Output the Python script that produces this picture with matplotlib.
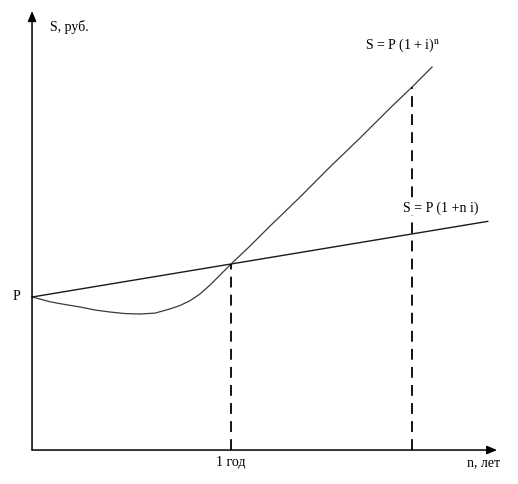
import numpy as np
import matplotlib.pyplot as plt

plt.rcParams['font.family'] = ['Liberation Serif', 'DejaVu Serif']
plt.rcParams['mathtext.fontset'] = 'stix'

# years (1 год = 1), amounts in units of P
P = 1.0
i_rate = 0.216
n_simple = [0.0, 2.29]
s_simple = [P * (1 + i_rate * n) for n in n_simple]

# curve
n_curve = [0.0, 0.040, 0.090, 0.166, 0.241, 0.317, 0.392, 0.467, 0.543, 0.618,
           0.693, 0.744, 0.794, 0.844, 0.894, 0.945, 1.0, 1.095, 1.196, 1.347,
           1.497, 1.648, 1.799, 1.910, 2.010]
s_curve = [1.0, 0.987, 0.969, 0.951, 0.935, 0.915, 0.902, 0.892, 0.889, 0.895,
           0.922, 0.945, 0.976, 1.020, 1.078, 1.144, 1.216, 1.333, 1.464, 1.654,
           1.850, 2.039, 2.235, 2.373, 2.503]

n_marks = [1.0, 1.91]
x_end = 2.337
y_end = 2.869

fig = plt.figure(figsize=(5.18, 4.85), dpi=100)
ax = fig.add_axes([0, 0, 1, 1])
ax.set_xlim(-0.161, 2.442)
ax.set_ylim(-0.222, 2.948)
ax.axis('off')

# axes with arrows
arrow = dict(arrowstyle='-|>,head_length=0.6,head_width=0.25', color='black', lw=1.1,
             shrinkA=0, shrinkB=0)
ax.annotate('', xy=(0, y_end), xytext=(0, 0), arrowprops=arrow)
ax.annotate('', xy=(x_end, 0), xytext=(0, 0), arrowprops=arrow)

ax.plot(n_simple, s_simple, color='#1a1a1a', lw=1.0)
ax.plot(n_curve, s_curve, color='#3a3a3a', lw=0.9)

s_at_marks = [np.interp(n_marks[0], n_simple, s_simple), s_curve[-2]]
for n, s in zip(n_marks, s_at_marks):
    ax.plot([n, n], [0, s], color='black', lw=1.3, dashes=(6, 4))

fs = 10
ax.text(0.09, 2.771, 'S, руб.', fontsize=fs, va='center', ha='left')
ax.text(1.673, 2.654, 'S = P (1 + i)$^\\mathrm{n}$', fontsize=fs, va='center', ha='left')
ax.text(1.864, 1.588, 'S = P (1 +n i)', fontsize=fs, va='center', ha='left',
        bbox=dict(facecolor='white', edgecolor='none', pad=1))
ax.text(-0.08, 1.013, 'P', fontsize=fs, va='center', ha='center')
ax.text(1.0, -0.078, '1 год', fontsize=fs, va='center', ha='center')
ax.text(2.186, -0.078, 'n, лет', fontsize=fs, va='center', ha='left')

fig.savefig('out.png', dpi=100)
